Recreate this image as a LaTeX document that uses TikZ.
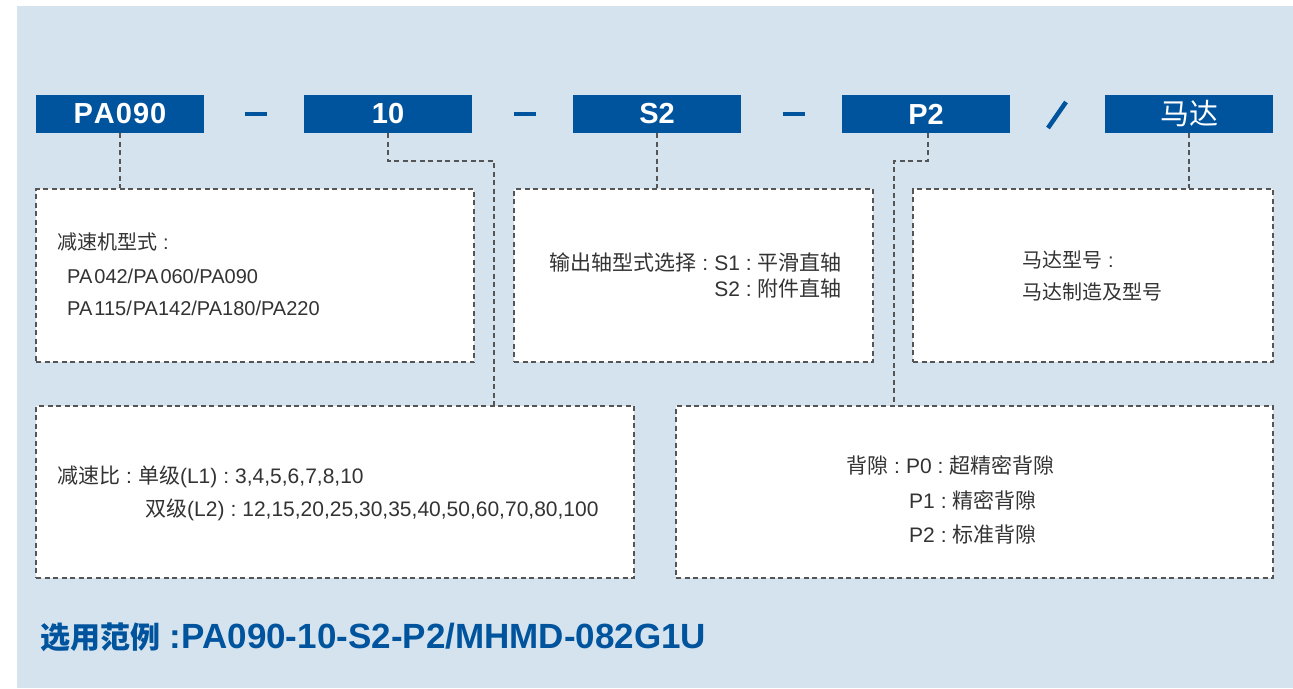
\documentclass[tikz,border=0pt]{standalone}
\usepackage{fontspec}
\setmainfont{Liberation Sans}
\newfontfamily\cjk{Noto Sans CJK SC}
\definecolor{bgblue}{HTML}{D5E3EE}
\definecolor{codeblue}{HTML}{00549E}
\definecolor{dashgray}{HTML}{555555}
\definecolor{txtgray}{HTML}{333333}
\newcommand{\cc}{\hspace{6pt}:\hspace{6pt}}
\tikzset{
  codebox/.style={fill=codeblue, text=white, minimum width=168pt, minimum height=38pt, inner sep=0pt, font=\fontsize{29}{29}\selectfont\bfseries},
  infobox/.style={fill=white, draw=dashgray, line width=1.3pt, dash pattern=on 5pt off 3.5pt},
  conn/.style={draw=dashgray, line width=1.3pt, dash pattern=on 5pt off 3.5pt},
  sep/.style={draw=codeblue, line width=4.5pt},
  body/.style={text=txtgray, inner sep=0pt, font=\fontsize{21}{21}\selectfont},
  bodysm/.style={text=txtgray, inner sep=0pt, font=\fontsize{20}{20}\selectfont}
}
\begin{document}
\begin{tikzpicture}[x=1pt,y=-1pt]
\useasboundingbox (0,0) rectangle (1293,688);
\fill[white] (0,0) rectangle (1293,688);
\fill[bgblue] (17,6) rectangle (1293,688);

% code boxes
\node[codebox] (c1) at (120,114) {P\kern1ptA\kern1pt0\kern1pt9\kern1pt0};
\node[codebox] (c2) at (388,114) {10};
\node[codebox] (c3) at (657,114) {S2};
\node[codebox] (c4) at (926,114) {P2};
\node[codebox, font=\fontsize{29}{29}\cjk] (c5) at (1189,114) {马达};

% separators
\draw[sep] (245,114) -- (267,114);
\draw[sep] (514,114) -- (536,114);
\draw[sep] (783,114) -- (805,114);
\draw[sep] (1048,128) -- (1066,102);

% info boxes
\node[infobox, minimum width=438pt, minimum height=173pt, inner sep=0pt] (b1) at (255,275.5) {};
\node[infobox, minimum width=359pt, minimum height=173pt, inner sep=0pt] (b2) at (693.5,275.5) {};
\node[infobox, minimum width=360pt, minimum height=173pt, inner sep=0pt] (b3) at (1093,275.5) {};
\node[infobox, minimum width=598pt, minimum height=172pt, inner sep=0pt] (b4) at (335,492) {};
\node[infobox, minimum width=597pt, minimum height=172pt, inner sep=0pt] (b5) at (974.5,492) {};

% connectors
\coordinate (k2a) at (388,161);
\coordinate (k2b) at (494,161);
\coordinate (k4a) at (928,161);
\coordinate (k4b) at (894,161);
\draw[conn] (c1.south) -- (b1.north -| c1.south);
\draw[conn] (c2.south) -- (k2a) -- (k2b) -- (b4.north -| k2b);
\draw[conn] (c3.south) -- (b3.north -| c3.south);
\draw[conn] (c4.south -| k4a) -- (k4a) -- (k4b) -- (b5.north -| k4b);
\draw[conn] (c5.south) -- (b3.north -| c5.south);

% box 1 text
\node[bodysm, anchor=west] (t11) at (57,242) {{\cjk 减速机型式}\cc};
\node[bodysm, anchor=west] (t12) at (67,276) {PA\kern2pt042/PA\kern2pt060/PA090};
\node[bodysm, anchor=west] (t13) at (67,308) {PA\kern2pt115/\kern1ptPA142/PA180/PA220};

% box 2 text
\node[body, anchor=east] (t21) at (842,263) {{\cjk 输出轴型式选择}\cc S1\cc{\cjk 平滑直轴}};
\node[body, anchor=east] (t22) at (842,289) {S2\cc{\cjk 附件直轴}};

% box 3 text
\node[bodysm, anchor=west] (t31) at (1022,260) {{\cjk 马达型号}\cc};
\node[bodysm, anchor=west] (t32) at (1022,292) {{\cjk 马达制造及型号}};

% box 4 text
\node[body, anchor=west] (t41) at (57,477) {{\cjk 减速比}\cc{\cjk 单级}(L1)\cc 3,4,5,6,7,8,10};
\node[body, anchor=west] (t42) at (145,510) {{\cjk 双级}(L2)\cc 12,15,20,25,30,35,40,50,60,70,80,100};

% box 5 text
\node[body, anchor=west] (t51) at (846,465) {{\cjk 背隙}\cc P0\cc{\cjk 超精密背隙}};
\node[body, anchor=west] (t52) at (909,500) {P1\cc{\cjk 精密背隙}};
\node[body, anchor=west] (t53) at (909,535) {P2\cc{\cjk 标准背隙}};

% example
\node[anchor=west, inner sep=0pt, text=codeblue] (ex) at (40,637) {{\fontsize{30}{30}\cjk\bfseries 选用范例}\fontsize{35}{35}\selectfont\bfseries\ :PA090-10-S2-P2/MHMD-082G1U};
\end{tikzpicture}
\end{document}
